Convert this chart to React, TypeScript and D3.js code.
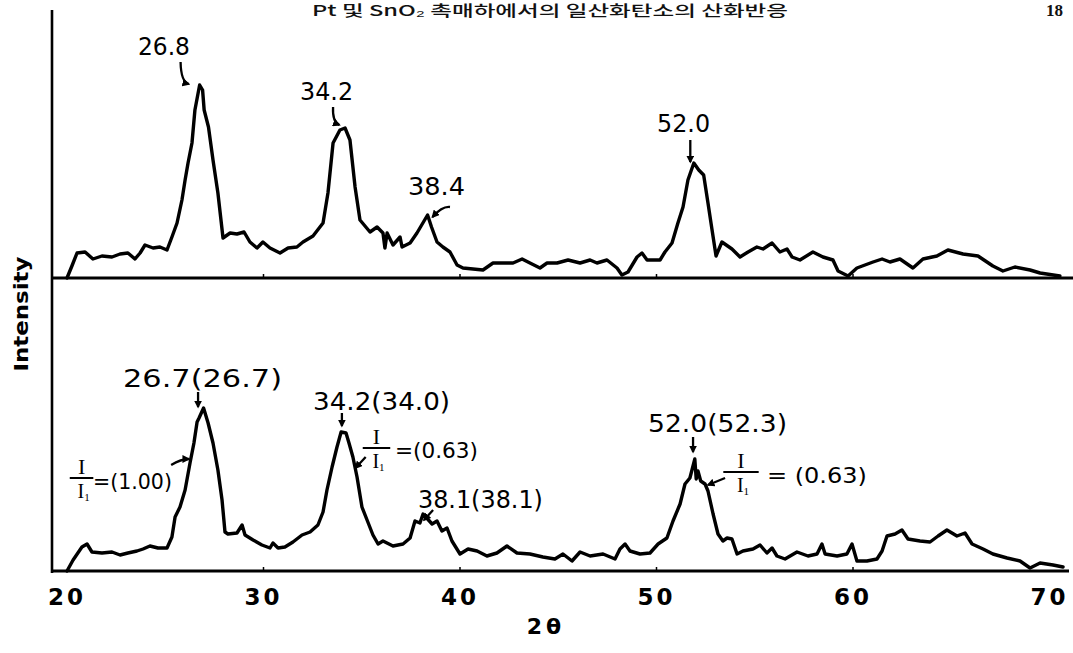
import React from "react";
import * as d3 from "d3";

// Diffraction scan of the catalyst before reaction (upper trace)
const topTheta = [
  20.0, 20.25, 20.51, 20.92, 21.32, 21.78, 22.29, 22.7, 23.1, 23.46, 23.72, 23.97, 24.38, 24.73, 25.09,
  25.34, 25.6, 25.85, 26.01, 26.16, 26.36, 26.51, 26.75, 26.9, 26.98, 27.2, 27.43, 27.68, 27.94, 28.3,
  28.65, 29.01, 29.31, 29.67, 29.97, 30.33, 30.84, 31.25, 31.7, 32.01, 32.52, 33.03, 33.28, 33.54, 33.89,
  34.15, 34.4, 34.66, 34.91, 35.42, 35.78, 36.08, 36.18, 36.29, 36.59, 36.95, 37.05, 37.46, 37.81, 38.35,
  38.55, 38.83, 39.13, 39.49, 39.85, 40.15, 41.17, 41.68, 42.7, 43.16, 43.56, 44.07, 44.43, 44.94, 45.5,
  46.11, 46.62, 46.97, 47.48, 47.99, 48.24, 48.55, 49.01, 49.26, 49.52, 50.18, 50.43, 50.79, 51.09, 51.35,
  51.6, 51.9, 52.15, 52.4, 52.62, 52.82, 53.03, 53.33, 53.84, 54.25, 54.66, 55.11, 55.42, 55.88, 56.28,
  56.64, 56.9, 57.3, 57.96, 58.47, 58.98, 59.24, 59.75, 60.2, 61.02, 61.48, 61.88, 62.39, 63.05, 63.56,
  64.27, 64.83, 65.6, 66.36, 67.12, 67.63, 68.24, 69.01, 69.52, 70.53,
];
const topIntensity = [
  0, 12, 25, 26, 19, 22, 21, 24, 25, 19, 25, 33, 30, 31, 28,
  41, 55, 78, 98, 115, 135, 168, 193, 188, 168, 151, 118, 85, 40, 45,
  44, 46, 36, 30, 36, 30, 25, 30, 31, 36, 42, 55, 85, 135, 148,
  150, 138, 91, 58, 46, 51, 45, 30, 45, 33, 41, 31, 35, 45, 63,
  51, 36, 31, 26, 13, 10, 8, 15, 15, 19, 15, 10, 15, 15, 18,
  15, 18, 15, 18, 10, 3, 6, 21, 25, 18, 18, 26, 35, 55, 71,
  98, 115, 108, 103, 75, 49, 22, 36, 29, 21, 26, 31, 29, 35, 26,
  29, 21, 18, 26, 21, 18, 7, 2, 10, 16, 19, 16, 19, 10, 19,
  22, 28, 24, 22, 12, 7, 11, 8, 5, 2,
];

// Diffraction scan after reaction (lower trace)
const bottomTheta = [
  20.0, 20.31, 20.76, 21.02, 21.27, 21.78, 22.29, 22.7, 23.1, 23.56, 23.87, 24.22, 24.63, 25.09, 25.34,
  25.5, 25.75, 26.01, 26.26, 26.46, 26.62, 26.72, 26.95, 27.18, 27.43, 27.68, 27.89, 28.04, 28.19, 28.65,
  28.91, 29.06, 29.47, 29.92, 30.33, 30.48, 30.74, 31.09, 31.5, 31.96, 32.37, 32.77, 33.03, 33.23, 33.49,
  33.74, 33.95, 34.2, 34.35, 34.55, 34.76, 35.01, 35.27, 35.57, 35.83, 36.08, 36.59, 37.1, 37.46, 37.71,
  37.96, 38.12, 38.58, 38.83, 39.08, 39.34, 39.59, 40.0, 40.41, 40.87, 41.37, 41.88, 42.39, 42.9, 43.56,
  44.22, 44.83, 45.24, 45.7, 46.11, 46.62, 47.28, 47.89, 48.14, 48.4, 48.65, 49.16, 49.67, 50.08, 50.53,
  50.84, 51.2, 51.45, 51.7, 51.95, 52.02, 52.11, 52.25, 52.47, 52.62, 52.88, 53.13, 53.38, 53.59, 53.84,
  54.1, 54.4, 54.91, 55.27, 55.62, 55.88, 56.13, 56.54, 57.15, 57.71, 58.17, 58.42, 58.58, 59.19, 59.69,
  59.95, 60.2, 60.71, 61.22, 61.48, 61.73, 62.14, 62.49, 62.8, 63.41, 63.92, 64.33, 64.78, 65.29, 65.7,
  66.06, 66.62, 67.12, 67.84, 68.5, 69.01, 69.52, 70.18, 70.69,
];
const bottomIntensity = [
  0, 11, 24, 27, 19, 18, 19, 16, 18, 20, 22, 25, 23, 23, 34,
  54, 64, 81, 108, 128, 149, 153, 163, 148, 128, 101, 71, 39, 37, 38,
  46, 36, 31, 26, 23, 28, 23, 24, 29, 36, 39, 46, 59, 81, 104,
  124, 139, 138, 128, 114, 94, 64, 51, 36, 27, 30, 25, 27, 33, 50,
  48, 57, 47, 50, 40, 43, 30, 17, 22, 20, 15, 18, 25, 18, 17,
  14, 12, 17, 10, 19, 15, 17, 12, 22, 27, 20, 17, 18, 27, 33,
  50, 67, 87, 93, 112, 92, 100, 90, 87, 80, 57, 37, 30, 33, 32,
  17, 20, 22, 26, 18, 23, 15, 12, 19, 15, 17, 27, 17, 15, 17,
  27, 10, 10, 12, 20, 35, 37, 41, 32, 30, 29, 35, 41, 35, 38,
  27, 22, 17, 13, 10, 3, 8, 6, 4,
];

const xTicks = [20, 30, 40, 50, 60, 70];
const xTickLabels = ["20", "30", "40", "50", "60", "70"];

type Pt = [number, number];
interface Label { text: string; at: Pt; width: number }
interface Arrow { from: Pt; to: Pt; ctrl?: Pt }
interface Fraction { center: Pt; half: number; eqText: string; eqAt: Pt; eqWidth: number }

// Peak labels for the upper trace (2θ, intensity anchors)
const topLabels: Label[] = [
  { text: "26.8", at: [23.61, 223], width: 52 },
  { text: "34.2", at: [31.86, 178], width: 53 },
  { text: "38.4", at: [37.35, 83], width: 57 },
  { text: "52.0", at: [50.03, 146], width: 53 },
];
const topArrows: Arrow[] = [
  { from: [25.78, 216], to: [26.2, 194], ctrl: [25.8, 196] },
  { from: [33.54, 171], to: [33.86, 153], ctrl: [33.5, 156] },
  { from: [39.49, 71], to: [38.6, 61], ctrl: [39.1, 72] },
  { from: [51.72, 138], to: [51.72, 116] },
];

// Peak labels for the lower trace with reference positions in parentheses
const bottomLabels: Label[] = [
  { text: "26.7(26.7)", at: [22.85, 184], width: 159 },
  { text: "34.2(34.0)", at: [32.52, 161], width: 137 },
  { text: "38.1(38.1)", at: [37.86, 63], width: 125 },
  { text: "52.0(52.3)", at: [49.57, 139], width: 139 },
];
const bottomArrows: Arrow[] = [
  { from: [26.67, 179], to: [26.67, 164] },
  { from: [33.99, 158], to: [33.99, 145] },
  { from: [35.2, 114], to: [34.68, 103] },
  { from: [25.3, 106], to: [26.2, 112], ctrl: [25.8, 112] },
  { from: [38.63, 61], to: [38.17, 51] },
  { from: [51.86, 134], to: [51.86, 119] },
  { from: [53.49, 93], to: [52.62, 86] },
];
const fractions: Fraction[] = [
  { center: [20.74, 93], half: 0.6, eqText: "=(1.00)", eqAt: [21.32, 82], eqWidth: 79 },
  { center: [35.75, 123], half: 0.7, eqText: "=(0.63)", eqAt: [36.69, 113], eqWidth: 83 },
  { center: [54.3, 99], half: 0.9, eqText: "= (0.63)", eqAt: [55.62, 88], eqWidth: 100 },
];

const W = 1073;
const H = 653;

export default function App() {
  const x = d3.scaleLinear().domain([20, 70]).range([67, 1049.5]);
  const yTop = d3.scaleLinear().domain([0, 200]).range([278, 78]);
  const yBot = d3.scaleLinear().domain([0, 200]).range([571, 371]);

  const topLine = d3
    .line<number>()
    .x((_, i) => x(topTheta[i]))
    .y((d) => yTop(d))
    .curve(d3.curveLinear);
  const botLine = d3
    .line<number>()
    .x((_, i) => x(bottomTheta[i]))
    .y((d) => yBot(d))
    .curve(d3.curveLinear);

  const numFont = "'DejaVu Sans', sans-serif";

  const arrowPath = (a: Arrow, y: d3.ScaleLinear<number, number>) => {
    const [x1, y1] = [x(a.from[0]), y(a.from[1])];
    const [x2, y2] = [x(a.to[0]), y(a.to[1])];
    if (a.ctrl) {
      const [cx, cy] = [x(a.ctrl[0]), y(a.ctrl[1])];
      return `M${x1},${y1} Q${cx},${cy} ${x2},${y2}`;
    }
    return `M${x1},${y1} L${x2},${y2}`;
  };

  const renderLabels = (labels: Label[], y: d3.ScaleLinear<number, number>) =>
    labels.map((l, i) => (
      <text
        key={i}
        x={x(l.at[0])}
        y={y(l.at[1])}
        fontFamily={numFont}
        fontSize={24}
        textLength={l.width}
        lengthAdjust="spacingAndGlyphs"
        fill="#000"
      >
        {l.text}
      </text>
    ));

  const renderArrows = (arrows: Arrow[], y: d3.ScaleLinear<number, number>) =>
    arrows.map((a, i) => (
      <path
        key={i}
        d={arrowPath(a, y)}
        fill="none"
        stroke="#000"
        strokeWidth={2.3}
        markerEnd="url(#head)"
      />
    ));

  const xTickPos = xTicks.slice(1, -1);

  return (
    <svg
      width={W}
      height={H}
      viewBox={`0 0 ${W} ${H}`}
      style={{ position: "absolute", left: 0, top: 0, display: "block", background: "#fff" }}
    >
      <defs>
        <marker
          id="head"
          viewBox="0 0 10 10"
          refX={8}
          refY={5}
          markerWidth={8}
          markerHeight={8}
          markerUnits="userSpaceOnUse"
          orient="auto"
        >
          <path d="M0,0 L10,5 L0,10 Z" fill="#000" />
        </marker>
      </defs>
      <rect width={W} height={H} fill="#fff" />

      {/* running header of the journal page */}
      <text
        x={312}
        y={16}
        fontFamily="'Noto Sans CJK KR', sans-serif"
        fontSize={15}
        fontWeight={500}
        textLength={476}
        lengthAdjust="spacingAndGlyphs"
        fill="#111"
      >
        Pt 및 SnO₂ 촉매하에서의 일산화탄소의 산화반응
      </text>
      <text x={1046} y={16} fontFamily="'Liberation Serif', serif" fontSize={17} fontWeight={700} fill="#111">
        18
      </text>

      {/* axes */}
      <line x1={52} y1={10} x2={52} y2={573} stroke="#000" strokeWidth={2.6} />
      <line x1={51} y1={yTop(0)} x2={1073} y2={yTop(0)} stroke="#000" strokeWidth={2.8} />
      <line x1={51} y1={yBot(0)} x2={1069} y2={yBot(0)} stroke="#000" strokeWidth={3} />
      {xTickPos.map((t) => (
        <g key={t}>
          <line x1={x(t)} x2={x(t)} y1={yTop(0)} y2={yTop(0) - 4} stroke="#000" strokeWidth={1.5} />
          <line x1={x(t)} x2={x(t)} y1={yBot(0)} y2={yBot(0) - 4} stroke="#000" strokeWidth={1.5} />
        </g>
      ))}
      {xTicks.map((t, i) => (
        <text
          key={t}
          x={x(t)}
          y={605}
          textAnchor="middle"
          fontFamily={numFont}
          fontWeight={700}
          fontSize={23}
          letterSpacing={3}
          fill="#000"
        >
          {xTickLabels[i]}
        </text>
      ))}
      <text
        x={546}
        y={634}
        textAnchor="middle"
        fontFamily={numFont}
        fontWeight={700}
        fontSize={22}
        letterSpacing={4}
        fill="#000"
      >
        2θ
      </text>
      <text
        transform="translate(28,314) rotate(-90)"
        textAnchor="middle"
        fontFamily={numFont}
        fontWeight={700}
        fontSize={20}
        textLength={115}
        lengthAdjust="spacingAndGlyphs"
        fill="#000"
      >
        Intensity
      </text>

      {/* traces */}
      <path d={topLine(topIntensity) ?? ""} fill="none" stroke="#000" strokeWidth={3.4} strokeLinejoin="round" strokeLinecap="round" />
      <path d={botLine(bottomIntensity) ?? ""} fill="none" stroke="#000" strokeWidth={3.4} strokeLinejoin="round" strokeLinecap="round" />

      {/* annotations */}
      {renderLabels(topLabels, yTop)}
      {renderArrows(topArrows, yTop)}
      {renderLabels(bottomLabels, yBot)}
      {renderArrows(bottomArrows, yBot)}
      {fractions.map((f, i) => {
        const cx = x(f.center[0]);
        const by = yBot(f.center[1]);
        return (
          <g key={i}>
            <text x={cx} y={by - 4} textAnchor="middle" fontFamily="'Liberation Serif', serif" fontSize={22} fill="#000">
              I
            </text>
            <line
              x1={x(f.center[0] - f.half)}
              x2={x(f.center[0] + f.half)}
              y1={by}
              y2={by}
              stroke="#000"
              strokeWidth={2}
            />
            <text x={cx + 2} y={by + 20} textAnchor="middle" fontFamily="'Liberation Serif', serif" fontSize={20} fill="#000">
              I<tspan fontSize={11} dy={3}>1</tspan>
            </text>
            <text
              x={x(f.eqAt[0])}
              y={yBot(f.eqAt[1])}
              fontFamily={numFont}
              fontSize={22}
              textLength={f.eqWidth}
              lengthAdjust="spacingAndGlyphs"
              fill="#000"
            >
              {f.eqText}
            </text>
          </g>
        );
      })}
    </svg>
  );
}
